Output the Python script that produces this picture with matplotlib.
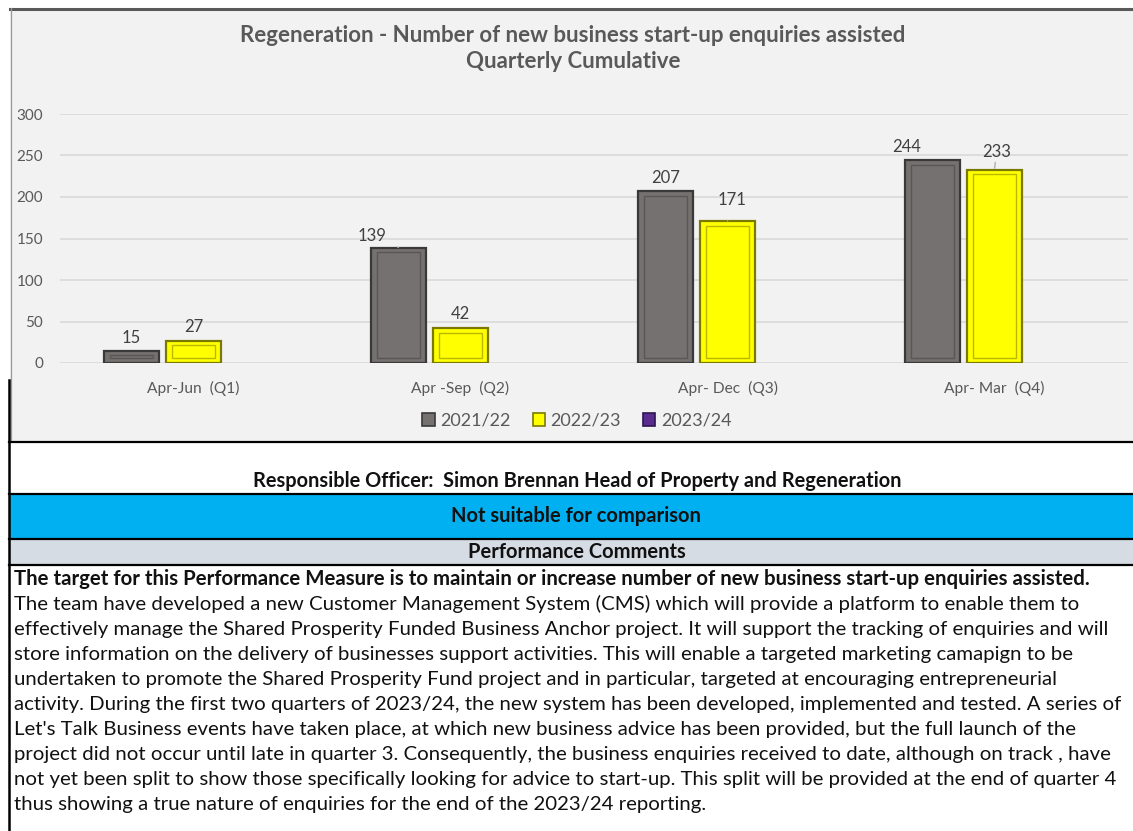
import matplotlib
matplotlib.use("Agg")
import matplotlib.pyplot as plt
from matplotlib.patches import Rectangle, Patch
import numpy as np

# ---------------- data ----------------
categories = ["Apr-Jun  (Q1)", "Apr -Sep  (Q2)", "Apr- Dec  (Q3)", "Apr- Mar  (Q4)"]
series_names = ["2021/22", "2022/23", "2023/24"]
values_2122 = [15, 139, 207, 244]
values_2223 = [27, 42, 171, 233]
values_2324 = []  # no data yet
y_ticks = [0, 50, 100, 150, 200, 250, 300]

title_line1 = "Regeneration - Number of new business start-up enquiries assisted"
title_line2 = "Quarterly Cumulative"
officer_text = "Responsible Officer:  Simon Brennan Head of Property and Regeneration"
status_text = "Not suitable for comparison"
comments_header = "Performance Comments"
comment_lines = [
    "The target for this Performance Measure is to maintain or increase number of new business start-up enquiries assisted.",
    "The team have developed a new Customer Management System (CMS) which will provide a platform to enable them to",
    "effectively manage the Shared Prosperity Funded Business Anchor project. It will support the tracking of enquiries and will",
    "store information on the delivery of businesses support activities. This will enable a targeted marketing camapign to be",
    "undertaken to promote the Shared Prosperity Fund project and in particular, targeted at encouraging entrepreneurial",
    "activity. During the first two quarters of 2023/24, the new system has been developed, implemented and tested. A series of",
    "Let's Talk Business events have taken place, at which new business advice has been provided, but the full launch of the",
    "project did not occur until late in quarter 3. Consequently, the business enquiries received to date, although on track , have",
    "not yet been split to show those specifically looking for advice to start-up. This split will be provided at the end of quarter 4",
    "thus showing a true nature of enquiries for the end of the 2023/24 reporting.",
]

# ---------------- style ----------------
FONT = ["Lato", "DejaVu Sans"]
plt.rcParams["font.family"] = FONT
W, H, DPI = 1133, 831, 100
TXT_GREY = "#595959"
GREY_FACE, GREY_EDGE, GREY_INNER = "#767171", "#3b3838", "#5a5656"
YEL_FACE, YEL_EDGE, YEL_INNER = "#FFFF00", "#7a7a00", "#b8b800"
PURPLE = "#5B2C8F"

fig = plt.figure(figsize=(W / DPI, H / DPI), dpi=DPI)
fig.patch.set_facecolor("white")

# background / table layer in pixel coordinates
bg = fig.add_axes([0, 0, 1, 1], zorder=0)
bg.set_xlim(0, W)
bg.set_ylim(H, 0)
bg.axis("off")

bg.add_patch(Rectangle((10, 8), W - 10, 433, facecolor="#F2F2F2", edgecolor="none"))
bg.plot([10, W], [8.5, 8.5], color="#595959", lw=2.2)
bg.plot([10.5, 10.5], [8, 441], color="#9a9a9a", lw=0.9)
bg.add_patch(Rectangle((9, 494), W - 9, 44, facecolor="#00B0F0", edgecolor="none"))
bg.add_patch(Rectangle((9, 539), W - 9, 25, facecolor="#D6DCE4", edgecolor="none"))
for yy in [442, 493.5, 538.5, 564.5]:
    bg.plot([9, W], [yy, yy], color="black", lw=1.6)
bg.plot([9, 9], [380, H], color="black", lw=1.8)

# title
bg.text(573, 35, title_line1, ha="center", va="center", fontsize=16.0,
        fontweight="bold", color=TXT_GREY)
bg.text(573, 61, title_line2, ha="center", va="center", fontsize=16.0,
        fontweight="bold", color=TXT_GREY)

# table texts
bg.text(577, 481, officer_text, ha="center", va="center", fontsize=14.4,
        fontweight="bold", color="#111111")
bg.text(576, 516, status_text, ha="center", va="center", fontsize=14.5,
        fontweight="bold", color="#111111")
bg.text(577, 552, comments_header, ha="center", va="center", fontsize=14.5,
        fontweight="bold", color="#111111")

body_fs = 14.65
for i, line in enumerate(comment_lines):
    bg.text(14, 579 + 25.1 * i, line, ha="left", va="center",
            fontsize=body_fs,
            fontweight="bold" if i == 0 else "normal", color="#111111")

# ---------------- chart ----------------
ax = fig.add_axes([60 / W, 1 - 363 / H, (1128 - 60) / W, (363 - 114) / H], zorder=1)
ax.patch.set_alpha(0)
x = np.arange(len(categories))
bw = 0.205
offsets = [-0.232, 0.0, 0.232]

def bevel_bars(xpos, vals, face, edge, inner):
    ax.bar(xpos, vals, width=bw, color=face, edgecolor=edge, linewidth=1.6, zorder=3)
    vals = np.asarray(vals, dtype=float)
    inset_y = 5.5
    inner_h = np.clip(vals - 2 * inset_y, 1.2, None)
    ax.bar(xpos, inner_h, bottom=inset_y, width=bw * 0.78,
           facecolor="none", edgecolor=inner, linewidth=1.0, zorder=4)

bevel_bars(x + offsets[0], values_2122, GREY_FACE, GREY_EDGE, GREY_INNER)
bevel_bars(x + offsets[1], values_2223, YEL_FACE, YEL_EDGE, YEL_INNER)

ax.set_xlim(-0.5, len(categories) - 0.5)
ax.set_ylim(0, 300)
ax.set_yticks(y_ticks)
ax.set_xticks(x)
ax.set_xticklabels(categories)
ax.tick_params(axis="both", length=0, colors=TXT_GREY, labelsize=11.0)
ax.tick_params(axis="y", pad=12)
ax.tick_params(axis="x", pad=13, labelsize=11.2)
for s in ax.spines.values():
    s.set_visible(False)
ax.yaxis.grid(True, color="#D9D9D9", lw=1.2, zorder=0)
ax.set_axisbelow(True)

# data labels (offsets in pixels: dx, dy above bar top)
lbl_off_2122 = [(0, 13), (-27, 12), (0, 13), (-26, 13)]
lbl_off_2223 = [(0, 14), (0, 14), (5, 21), (2, 18)]
leader_2122 = [False, True, False, False]
leader_2223 = [False, False, True, True]
px2pt = 72 / DPI
for vals, xo, offs, leads in [(values_2122, offsets[0], lbl_off_2122, leader_2122),
                              (values_2223, offsets[1], lbl_off_2223, leader_2223)]:
    for xi, v, (dx, dy), ld in zip(x, vals, offs, leads):
        ax.annotate(str(v), xy=(xi + xo, v), xytext=(dx * px2pt, dy * px2pt),
                    textcoords="offset points", ha="center", va="center",
                    fontsize=12, color="#404040", zorder=5,
                    arrowprops=dict(arrowstyle="-", color="#A6A6A6", lw=0.9,
                                    shrinkA=7, shrinkB=1) if ld else None)

# legend
handles = [Patch(facecolor=GREY_FACE, edgecolor=GREY_EDGE, lw=1.2),
           Patch(facecolor=YEL_FACE, edgecolor=YEL_EDGE, lw=1.2),
           Patch(facecolor=PURPLE, edgecolor="#2e1450", lw=1.2)]
fig.legend(handles, series_names, loc="center", bbox_to_anchor=(577 / W, 1 - 421 / H),
           ncol=3, frameon=False, fontsize=13, handlelength=0.7, handleheight=0.7,
           handletextpad=0.3, columnspacing=1.2, labelcolor=TXT_GREY)

fig.savefig("out.png", dpi=DPI)
